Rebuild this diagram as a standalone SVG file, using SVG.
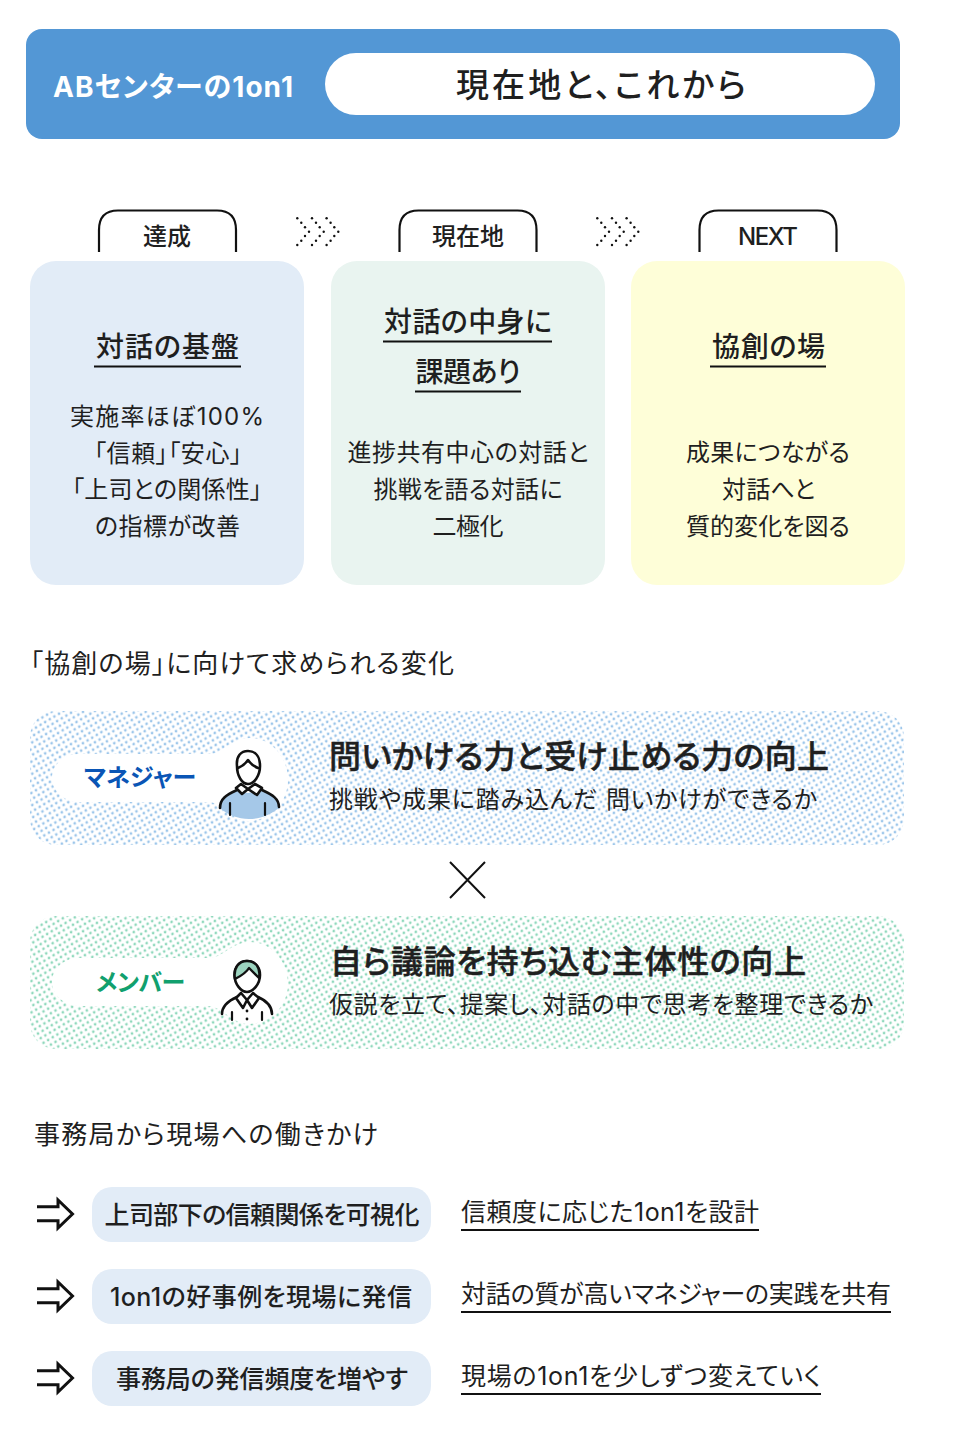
<svg xmlns="http://www.w3.org/2000/svg" width="956" height="1438" viewBox="0 0 956 1438">
<style>
text{font-family:"Inter","Noto Sans CJK JP","Noto Sans",sans-serif;fill:#1f1f1f;font-feature-settings:"palt"}
.h{font-size:28px;font-weight:500;text-anchor:middle}
.b{font-size:24px;text-anchor:middle}
.tab{font-size:24px;font-weight:500;text-anchor:middle}
.sec{font-size:26px}
.big{font-size:32px;font-weight:500;stroke:#1f1f1f;stroke-width:.5px}
.sub{font-size:24px}
.pill{font-size:25px;font-weight:500;text-anchor:middle}
.r{font-size:25px}
.tabp{fill:#fff;stroke:#111;stroke-width:2.2}
.ul{stroke:#111;stroke-width:2.2;fill:none}
.ar{fill:none;stroke:#111;stroke-width:3;stroke-linejoin:miter}
.ic{fill:#fff;stroke:#111;stroke-width:2.600;stroke-linejoin:round;stroke-linecap:round}
.il{fill:none;stroke:#111;stroke-width:2.600;stroke-linejoin:round;stroke-linecap:round}
</style>
<defs>
<pattern id="db" width="7.600" height="7.600" patternUnits="userSpaceOnUse" patternTransform="rotate(14)"><rect width="7.700" height="7.700" fill="#fff"/><circle cx="1.900" cy="1.900" r="1.350" fill="#9cc6ea"/><circle cx="5.700" cy="5.700" r="1.350" fill="#9cc6ea"/></pattern>
<pattern id="dg" width="7.600" height="7.600" patternUnits="userSpaceOnUse" patternTransform="rotate(14)"><rect width="7.700" height="7.700" fill="#fff"/><circle cx="1.900" cy="1.900" r="1.350" fill="#8fd8bc"/><circle cx="5.700" cy="5.700" r="1.350" fill="#8fd8bc"/></pattern>
<g id="chev" fill="#111"><circle cx="297.300" cy="218.300" r="1.200"/><circle cx="301.300" cy="222.700" r="1.200"/><circle cx="305" cy="227.300" r="1.200"/><circle cx="309" cy="231.700" r="1.200"/><circle cx="305" cy="236" r="1.200"/><circle cx="301.300" cy="240.700" r="1.200"/><circle cx="297.300" cy="245" r="1.200"/></g>
<path id="arr" d="M37 1206.700H58V1200L72.500 1214L58 1228V1220.700H37" class="ar"/>
</defs>
<g id="header">
<rect x="26" y="29" width="874" height="110" rx="16" fill="#5397d5"/>
<text x="53" y="97" font-size="28" font-weight="700" style="fill:#fff" textLength="240" lengthAdjust="spacing">ABセンターの1on1</text>
<rect x="325" y="53" width="550" height="62" rx="31" fill="#fff"/>
<text x="456" y="97" font-size="33" font-weight="500" textLength="290" lengthAdjust="spacing">現在地と、これから</text>
</g>
<g id="card-tassei">
<path class="tabp" d="M99 252V230Q99 210.500 118 210.500H217Q236 210.500 236 230V252"/>
<text class="tab" x="167" y="245" textLength="48" lengthAdjust="spacing">達成</text>
<rect x="30" y="261" width="274" height="324" rx="26" fill="#e2ecf7"/>
<text class="h" x="167.500" y="357" textLength="143" lengthAdjust="spacing">対話の基盤</text>
<line class="ul" x1="94" y1="366.500" x2="241" y2="366.500"/>
<text class="b" x="167" y="425" textLength="194" lengthAdjust="spacing">実施率ほぼ100%</text>
<text class="b" x="168" y="462" textLength="148" lengthAdjust="spacing">「信頼」「安心」</text>
<text class="b" x="167" y="498" textLength="190" lengthAdjust="spacing">「上司との関係性」</text>
<text class="b" x="167.500" y="535" textLength="145" lengthAdjust="spacing">の指標が改善</text>
</g>
<g id="card-genzai">
<path class="tabp" d="M399.500 252V230Q399.500 210.500 418.500 210.500H517.500Q536.500 210.500 536.500 230V252"/>
<text class="tab" x="468" y="245" textLength="72" lengthAdjust="spacing">現在地</text>
<rect x="331" y="261" width="274" height="324" rx="26" fill="#e9f4f0"/>
<text class="h" x="468" y="332" textLength="168" lengthAdjust="spacing">対話の中身に</text>
<line class="ul" x1="383" y1="341.500" x2="552" y2="341.500"/>
<text class="h" x="468" y="382" textLength="105" lengthAdjust="spacing">課題あり</text>
<line class="ul" x1="415" y1="391.500" x2="521" y2="391.500"/>
<text class="b" x="468" y="461" textLength="241" lengthAdjust="spacing">進捗共有中心の対話と</text>
<text class="b" x="468" y="498" textLength="189" lengthAdjust="spacing">挑戦を語る対話に</text>
<text class="b" x="468" y="535" textLength="71" lengthAdjust="spacing">二極化</text>
</g>
<g id="card-next">
<path class="tabp" d="M699.500 252V230Q699.500 210.500 718.500 210.500H817.500Q836.500 210.500 836.500 230V252"/>
<text class="tab" x="768" y="245" textLength="60" lengthAdjust="spacing" font-weight="600">NEXT</text>
<rect x="631" y="261" width="274" height="324" rx="26" fill="#fefed8"/>
<text class="h" x="768.500" y="357" textLength="113" lengthAdjust="spacing">協創の場</text>
<line class="ul" x1="710" y1="366.500" x2="826" y2="366.500"/>
<text class="b" x="768" y="461" textLength="164" lengthAdjust="spacing">成果につながる</text>
<text class="b" x="768.500" y="498" textLength="93" lengthAdjust="spacing">対話へと</text>
<text class="b" x="768" y="535" textLength="164" lengthAdjust="spacing">質的変化を図る</text>
</g>
<g id="connectors">
<use href="#chev"/><use href="#chev" x="14.700"/><use href="#chev" x="29.300"/>
<use href="#chev" x="300"/><use href="#chev" x="314.700"/><use href="#chev" x="329.300"/>
<use href="#arr"/><use href="#arr" y="82"/><use href="#arr" y="164"/>
</g>
<text id="sec1" class="sec" x="30" y="673" textLength="424" lengthAdjust="spacing">「協創の場」に向けて求められる変化</text>
<g id="manager">
<rect x="30" y="711" width="874" height="134" rx="26" fill="url(#db)"/>
<path d="M78 754H210C222 754 232 738 250 738C272 738 288 758 288 780C288 802 270 821 248 821C232 821 222 802 208 802H78C64 802 52 790 52 778C52 765 64 754 78 754Z" fill="#fff"/>
<text x="84" y="786" font-size="24" font-weight="700" style="fill:#0a55b5" textLength="112" lengthAdjust="spacing">マネジャー</text>
<path d="M220 808C220 800 224 796 236 790L248 793L262 790C273 794 279 800 279 808C270 815 260 819 249 819C238 819 228 815 220 808Z" fill="#a5c8e8"/>
<path class="il" d="M220 808C220 799 226 795 237 790M262 790C273 795 279 799 279 807"/>
<path class="ic" d="M237 766C236 756 241 751 248 751C255 751 260 756 260 766C260 776 254 784 248 784C242 784 237 776 237 766Z"/>
<path class="il" d="M238 768C243 766 246 763 248 760C250 763 253 766 258 768"/>
<path class="ic" d="M241 784L248 789L242 794L236 788ZM255 784L248 789L257 795L262 788Z"/>
<path class="il" style="stroke-width:2.200" d="M230 803V815M265 803V815"/>
<text class="big" x="329" y="768" textLength="500" lengthAdjust="spacing">問いかける力と受け止める力の向上</text>
<text class="sub" x="329" y="808" textLength="488" lengthAdjust="spacing">挑戦や成果に踏み込んだ 問いかけができるか</text>
</g>
<g id="cross"><path d="M450 862L485 898M485 862L450 898" stroke="#111" stroke-width="2" fill="none"/></g>
<g id="member">
<rect x="30" y="916" width="874" height="133" rx="26" fill="url(#dg)"/>
<path d="M78 958H210C222 958 232 942 250 942C272 942 288 962 288 984C288 1006 270 1024 248 1024C232 1024 222 1006 208 1006H78C64 1006 52 994 52 982C52 969 64 958 78 958Z" fill="#fff"/>
<text x="96" y="991" font-size="24" font-weight="700" style="fill:#11a06e" textLength="89" lengthAdjust="spacing">メンバー</text>
<path class="ic" d="M234.500 975C234.500 966 240 961 247 961C254 961 260 966 260 975C260 984 253 992 247 992C241 992 234.500 984 234.500 975Z"/>
<path d="M235 979C233 968 239 961 247 961C255 961 261 967 259 978L249 968C246 973 241 976 235 979Z" fill="#9cd4bf" stroke="#111" stroke-width="2.400" stroke-linejoin="round"/>
<path class="il" d="M222 1014C222 1006 228 1001 237 997M258 997C267 1001 272 1006 272 1014"/>
<path class="ic" d="M241 993L247 1000L243 1008L236 998ZM253 993L247 1000L252 1008L259 998Z"/>
<path class="il" style="stroke-width:2.200" d="M232 1012V1020M262 1012V1020"/>
<circle cx="247" cy="1011" r="1.400" fill="#111"/><circle cx="247" cy="1019" r="1.400" fill="#111"/>
<text class="big" x="330" y="973" textLength="476" lengthAdjust="spacing">自ら議論を持ち込む主体性の向上</text>
<text class="sub" x="329" y="1013" textLength="544" lengthAdjust="spacing">仮説を立て、提案し、対話の中で思考を整理できるか</text>
</g>
<text id="sec2" class="sec" x="34" y="1144" textLength="344" lengthAdjust="spacing">事務局から現場への働きかけ</text>
<g id="row1">
<rect x="92" y="1187" width="339" height="55" rx="20" fill="#e2ecf7"/>
<text class="pill" x="262" y="1224" textLength="315" lengthAdjust="spacing">上司部下の信頼関係を可視化</text>
<text class="r" x="461" y="1221" textLength="298" lengthAdjust="spacing">信頼度に応じた1on1を設計</text>
<line class="ul" x1="461" y1="1230" x2="759" y2="1230"/>
</g>
<g id="row2">
<rect x="92" y="1269" width="339" height="55" rx="20" fill="#e2ecf7"/>
<text class="pill" x="261" y="1306" textLength="302" lengthAdjust="spacing">1on1の好事例を現場に発信</text>
<text class="r" x="461" y="1303" textLength="430" lengthAdjust="spacing">対話の質が高いマネジャーの実践を共有</text>
<line class="ul" x1="461" y1="1312" x2="891" y2="1312"/>
</g>
<g id="row3">
<rect x="92" y="1351" width="339" height="55" rx="20" fill="#e2ecf7"/>
<text class="pill" x="262" y="1388" textLength="292" lengthAdjust="spacing">事務局の発信頻度を増やす</text>
<text class="r" x="461" y="1385" textLength="360" lengthAdjust="spacing">現場の1on1を少しずつ変えていく</text>
<line class="ul" x1="461" y1="1394" x2="821" y2="1394"/>
</g>
</svg>
